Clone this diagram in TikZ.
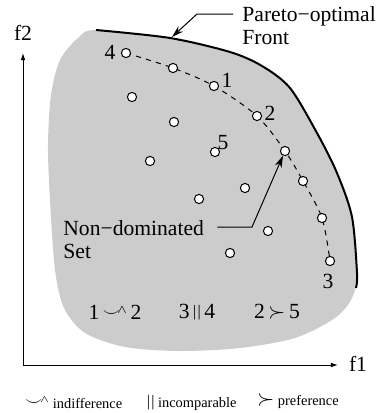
\documentclass[tikz,border=0pt]{standalone}
\usepackage{fontspec}
\setmainfont{Liberation Serif}
\usepackage{tikz}
\usetikzlibrary{arrows.meta,positioning,backgrounds}
\definecolor{RegionGray}{HTML}{CCCCCC}
\newcommand{\mainsize}{\fontsize{10.8}{11.6}\selectfont}
\newcommand{\indiff}{\raisebox{0.25ex}{$\scriptstyle\smile$}\kern-0.12em\raisebox{0.55ex}{$\scriptscriptstyle\wedge$}}
\newcommand{\incomp}{\raisebox{0.15ex}{\footnotesize|\kern0.6pt|}}

\begin{document}
\begin{tikzpicture}[x=0.5pt,y=-0.5pt,
  sol/.style={circle,draw,fill=white,line width=0.5pt,inner sep=0pt,minimum size=4.6pt},
  ptlabel/.style={font=\mainsize,inner sep=0.5pt},
  note/.style={font=\mainsize,align=left,inner sep=0pt},
  legend/.style={font=\fontsize{7.2}{8}\selectfont,inner sep=0pt},
  axis/.style={line width=0.5pt,-{Latex[length=3.6pt,width=2.4pt]}},
  leader/.style={line width=0.5pt,-{Stealth[length=6pt,width=3.6pt]}},
]
\useasboundingbox (0,0) rectangle (381,413);
\coordinate (origin) at (23,365);
\coordinate (ytop) at (23,53);
\coordinate (xend) at (338,365);
\draw[axis] (origin) -- (ytop);
\draw[axis] (origin) -- (xend);
\node[note] (f2) at (23,33) {f2};
\node[note] (f1) at (358,364) {f1};
\node[sol] (p4) at (126,53) {};
\node[sol] (pa) at (173,68) {};
\node[sol] (p1) at (214,86) {};
\node[sol] (p2) at (257,116) {};
\node[sol] (pb) at (285,151) {};
\node[sol] (pc) at (303,181) {};
\node[sol] (pd) at (322,218) {};
\node[sol] (p3) at (330,261) {};
\node[sol] (q1) at (132,97) {};
\node[sol] (q2) at (174,122) {};
\node[sol] (p5) at (215,152) {};
\node[sol] (q3) at (150,161) {};
\node[sol] (q4) at (245,188) {};
\node[sol] (q5) at (199,199) {};
\node[sol] (q6) at (268,231) {};
\node[sol] (q7) at (230,253) {};
\begin{scope}[on background layer]
\fill[RegionGray] plot[smooth cycle] coordinates {(96,30) (170,38) (230,52) (262,66) (290,88) (317,133) (337,173) (352,217) (357,273) (352,298) (335,318) (295,338) (240,348) (180,351) (125,347) (85,333) (64,308) (55,270) (50,200) (48,145) (51,95) (60,60) (78,38)};
\draw[dashed,dash pattern=on 2.6pt off 2.6pt,line width=0.5pt] plot[smooth] coordinates {(p4.center) (pa.center) (p1.center) (p2.center) (pb.center) (pc.center) (pd.center) (p3.center)};
\end{scope}
\draw[line width=1pt] plot[smooth] coordinates {(96,30) (170,38) (230,52) (262,66) (290,88) (317,133) (337,173) (352,217) (357,273) (356,288)};
\node[ptlabel,xshift=-8pt,yshift=0.5pt] at (p4.center) {4};
\node[ptlabel,xshift=6.5pt,yshift=3pt] at (p1.center) {1};
\node[ptlabel,xshift=6.5pt,yshift=1.5pt] at (p2.center) {2};
\node[ptlabel,xshift=4pt,yshift=4.5pt] at (p5.center) {5};
\node[ptlabel,xshift=-1pt,yshift=-10pt] at (p3.center) {3};
\node[note,anchor=west] (pf) at (242,26) {Pareto−optimal\\Front};
\coordinate (pfbend) at (197,14);
\coordinate (pftip) at (172,37);
\draw[leader] ([xshift=-4.5pt]pf.west |- pfbend) -- (pfbend) -- (pftip);
\node[note,anchor=west] (nd) at (63,240) {Non−dominated\\Set};
\coordinate (ndbend) at (252,227);
\draw[leader] ([xshift=6.5pt]nd.east |- ndbend) -- (ndbend) -- (pb);
\node[note] (rind) at (115,312) {1\,{\large\indiff}\,2};
\node[note] (rinc) at (197,312) {3\,\incomp\,4};
\node[note] (rpref) at (277,312) {2\,$\succ$\,5};
\node[legend,anchor=west] (lgind) at (25,403) {{\mainsize\indiff}\ indifference};
\node[legend,right=12pt of lgind] (lginc) {{\mainsize\incomp}\ incomparable};
\node[legend,right=10pt of lginc,yshift=1pt] (lgpref) {{\mainsize$\succ$}\ preference};
\end{tikzpicture}
\end{document}
